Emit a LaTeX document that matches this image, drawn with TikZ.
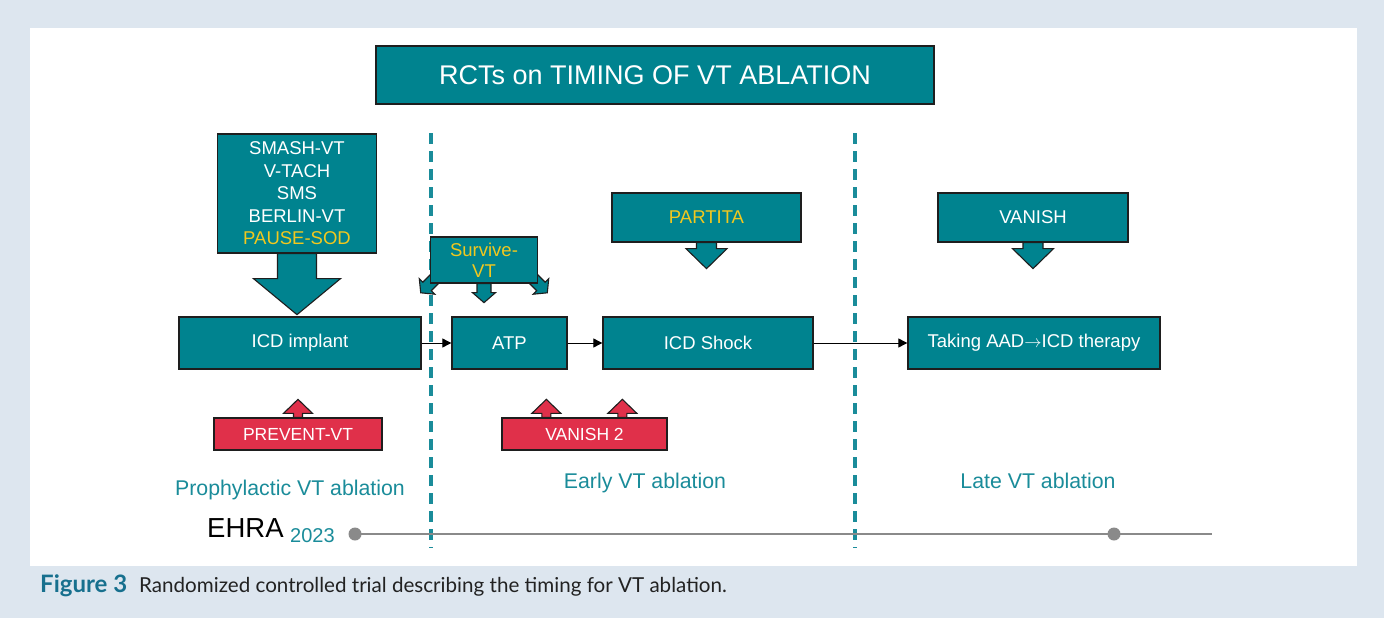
\documentclass[tikz,border=0pt]{standalone}
\usepackage{fontspec}
\setmainfont{Liberation Sans}
\newfontfamily\capfont{Lato}
\usetikzlibrary{calc,arrows.meta}

\definecolor{frame}{HTML}{DDE6EF}
\definecolor{tealbox}{HTML}{00838F}
\definecolor{gold}{HTML}{F2C81E}
\definecolor{redbox}{HTML}{E0304A}
\definecolor{labteal}{HTML}{1A8C9A}
\definecolor{edge}{HTML}{1E1E1E}
\definecolor{tline}{HTML}{8A8A8A}
\definecolor{capblue}{HTML}{17708E}
\definecolor{capgray}{HTML}{222222}

\pgfdeclarelayer{bg}
\pgfdeclarelayer{back}
\pgfsetlayers{bg,back,main}

% block arrow hanging from an anchor: shaft half width, shaft length, head half width, head length
\newcommand\blockarrow[6][]{%
  \filldraw[blk, shift={(#2)}, #1] (-#3,0) -- (-#3,#4) -- (-#5,#4) -- (0,#4+#6)
    -- (#5,#4) -- (#3,#4) -- (#3,0) -- cycle;}

\begin{document}
\begin{tikzpicture}[x=1pt,y=-1pt,
  box/.style={draw=edge, line width=1.3pt, fill=tealbox, text=white, inner sep=0pt,
    font=\fontsize{18.5}{22.5}\selectfont, align=center},
  redb/.style={box, fill=redbox, font=\fontsize{17.5}{20}\selectfont},
  blk/.style={draw=edge, line width=1.1pt, fill=tealbox},
  redblk/.style={fill=redbox},
  phase/.style={text=labteal, font=\fontsize{21.3}{24}\selectfont},
  link/.style={-{Triangle[length=9pt,width=9pt]}, line width=0.9pt},
  divider/.style={labteal, line width=3.2pt, dash pattern=on 11pt off 7pt},
]
\useasboundingbox (0,0) rectangle (1384,618);

\begin{pgfonlayer}{bg}
  \fill[frame] (0,0) rectangle (1384,618);
  \fill[white] (30,28) rectangle (1357,566);
  \draw[divider] (431,133) -- (431,548);
  \draw[divider] (855,133) -- (855,548);
\end{pgfonlayer}

% title
\node[box, minimum width=558pt, minimum height=58pt, font=\fontsize{27}{30}\selectfont]
  (title) at (655,75) {RCTs on TIMING OF VT ABLATION};

% trial boxes
\node[box, minimum width=159pt, minimum height=119pt] (smash) at (297,193.5)
  {SMASH-VT\\V-TACH\\SMS\\BERLIN-VT\\\textcolor{gold}{PAUSE-SOD}};
\node[box, minimum width=107pt, minimum height=46pt, font=\fontsize{18.5}{21}\selectfont]
  (survive) at (484,260) {\textcolor{gold}{Survive-}\\\textcolor{gold}{VT}};
\node[box, minimum width=189pt, minimum height=49pt] (partita) at (706.5,217.5)
  {\textcolor{gold}{PARTITA}};
\node[box, minimum width=190pt, minimum height=49pt] (vanish) at (1033,217.5) {VANISH};

% clinical steps
\node[box, minimum width=242pt, minimum height=52pt] (icd) at (300,343) {ICD implant};
\node[box, minimum width=115pt, minimum height=52pt] (atp) at (509.5,343) {ATP};
\node[box, minimum width=210pt, minimum height=52pt] (shock) at (708,343) {ICD Shock};
\node[box, minimum width=252pt, minimum height=52pt] (aad) at (1034,343)
  {Taking AAD$\rightarrow$ICD therapy};

% red trial boxes
\node[redb, minimum width=168pt, minimum height=32pt] (prevent) at (298,434) {PREVENT-VT};
\node[redb, minimum width=165pt, minimum height=32pt] (vanishtwo) at (584.5,434) {VANISH 2};

% block arrows
\begin{pgfonlayer}{back}
  \blockarrow{smash.south}{19.5}{25}{43.5}{36}
  \blockarrow{survive.south}{7}{9}{11.5}{10}
  \blockarrow[rotate=-45]{$(survive.south west)+(5,-5)$}{6}{11}{11}{9}
  \blockarrow[rotate=45]{$(survive.south east)+(-5,-5)$}{6}{11}{11}{9}
  \blockarrow{partita.south}{10}{6}{20.5}{20}
  \blockarrow{vanish.south}{10}{6}{20.5}{20}
  \blockarrow[redblk, yscale=-1]{prevent.north}{4.5}{4}{14.5}{14}
  \blockarrow[redblk, yscale=-1]{$(vanishtwo.north west)+(45,0)$}{4.5}{4}{14.5}{14}
  \blockarrow[redblk, yscale=-1]{$(vanishtwo.north west)+(121,0)$}{4.5}{4}{14.5}{14}
\end{pgfonlayer}

% sequence
\draw[link] (icd) -- (atp);
\draw[link] (atp) -- (shock);
\draw[link] (shock) -- (aad);

% phase labels
\node[phase] (pro) at (290,490) {Prophylactic VT ablation};
\node[phase] (early) at (645,483) {Early VT ablation};
\node[phase] (late) at (1038,481) {Late VT ablation};

% timeline
\node[circle, fill=tline, minimum size=13pt, inner sep=0pt] (tstart) at (355,534) {};
\node[circle, fill=tline, minimum size=13pt, inner sep=0pt] (tmark) at (1114,534) {};
\coordinate (tend) at (1212,534);
\begin{pgfonlayer}{back}
  \draw[tline, line width=2.4pt] (tstart.center) -- (tend);
\end{pgfonlayer}
\node[anchor=base west, inner sep=0pt, font=\fontsize{27.5}{30}\selectfont] (ehra) at (207,537) {EHRA};
\node[anchor=base west, inner sep=0pt, text=labteal, font=\fontsize{20}{24}\selectfont] (year) at (290,542) {2023};

% caption
\node[anchor=base west, inner sep=0pt, text=capblue, font=\capfont\bfseries\fontsize{24}{26}\selectfont]
  (figlabel) at (40,592) {Figure 3};
\node[anchor=base west, inner sep=0pt, text=capgray, font=\capfont\fontsize{20.6}{24}\selectfont]
  (captext) at (139,592) {Randomized controlled trial describing the timing for VT ablation.};
\end{tikzpicture}
\end{document}
